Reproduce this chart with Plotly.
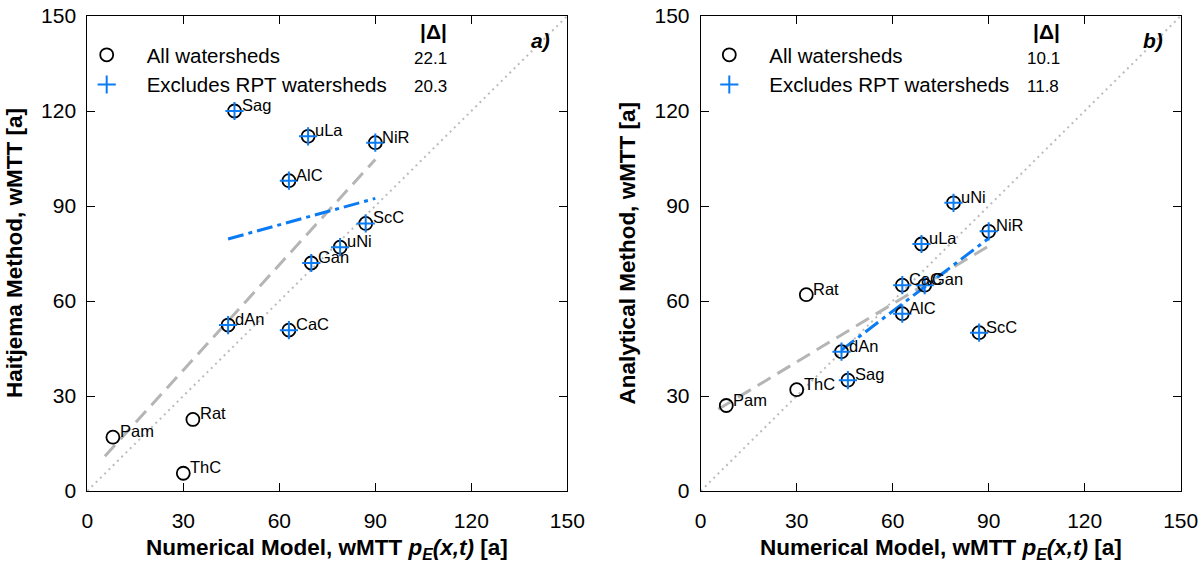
import plotly.graph_objects as go

W, H = 1204, 567

# ---------------- data ----------------
names = ["Pam", "ThC", "Rat", "dAn", "Sag", "CaC", "AlC", "uLa", "Gan", "uNi", "ScC", "NiR"]
numerical_wmtt = [8, 30, 33, 44, 46, 63, 63, 69, 70, 79, 87, 90]
haitjema_wmtt = [17, 5.6, 22.6, 52.4, 120, 50.8, 98, 112, 72, 77, 84.5, 110]
analytical_wmtt = [27, 32, 62, 44, 35, 65, 56, 78, 65, 91, 50, 82]
rpt_watershed = [True, True, True, False, False, False, False, False, False, False, False, False]

# regression line end points
fit_all_a_x = [5.5, 90]
fit_all_a_y = [11, 104.7]
fit_excl_a_x = [44, 90]
fit_excl_a_y = [79.6, 92.4]
fit_all_b_x = [5.5, 91]
fit_all_b_y = [25.8, 78]
fit_excl_b_x = [44, 90]
fit_excl_b_y = [44.5, 79.8]

one_to_one = [0, 150]
mad_all = [22.1, 10.1]
mad_excl = [20.3, 11.8]
tick_vals = [0, 30, 60, 90, 120, 150]
panel_tags = ["a)", "b)"]
y_titles = ["Haitjema Method, wMTT [a]", "Analytical Method, wMTT [a]"]
x_title = "Numerical Model, wMTT <i>p</i><sub><i>E</i></sub><i>(x,t)</i> [a]"
legend_names = ["All watersheds", "Excludes RPT watersheds"]

# ---------------- style ----------------
FONT = "Liberation Sans, Arial, sans-serif"
BLUE = "#0a7bf2"
GRAY_DASH = "#b5b5b5"
GRAY_DOT = "#bcbcbc"


def px_x(p):
    return p / W


def px_y(p):
    return 1 - p / H


fig = go.Figure()

panels = [
    dict(y=haitjema_wmtt, fx=fit_all_a_x, fy=fit_all_a_y, ex=fit_excl_a_x, ey=fit_excl_a_y,
         xa="x", ya="y", legend="legend", off=0),
    dict(y=analytical_wmtt, fx=fit_all_b_x, fy=fit_all_b_y, ex=fit_excl_b_x, ey=fit_excl_b_y,
         xa="x2", ya="y2", legend="legend2", off=613.4),
]

for i, p in enumerate(panels):
    xa, ya = p["xa"], p["ya"]
    fig.add_trace(go.Scatter(x=one_to_one, y=one_to_one, mode="lines", xaxis=xa, yaxis=ya,
                             line=dict(color=GRAY_DOT, width=2, dash="2px,4px"),
                             showlegend=False, hoverinfo="skip"))
    fig.add_trace(go.Scatter(x=p["fx"], y=p["fy"], mode="lines", xaxis=xa, yaxis=ya,
                             line=dict(color=GRAY_DASH, width=3, dash="15px,8px"),
                             showlegend=False, hoverinfo="skip"))
    fig.add_trace(go.Scatter(x=p["ex"], y=p["ey"], mode="lines", xaxis=xa, yaxis=ya,
                             line=dict(color=BLUE, width=3, dash="16px,5px,4px,5px"),
                             showlegend=False, hoverinfo="skip"))
    fig.add_trace(go.Scatter(x=numerical_wmtt, y=p["y"], mode="markers", xaxis=xa, yaxis=ya,
                             name=legend_names[0], legend=p["legend"],
                             marker=dict(symbol="circle-open", size=13, color="black",
                                         line=dict(color="black", width=1.8))))
    ex_x = [v for v, r in zip(numerical_wmtt, rpt_watershed) if not r]
    ex_y = [v for v, r in zip(p["y"], rpt_watershed) if not r]
    fig.add_trace(go.Scatter(x=ex_x, y=ex_y, mode="markers", xaxis=xa, yaxis=ya,
                             name=legend_names[1], legend=p["legend"],
                             marker=dict(symbol="cross-thin-open", size=13, color=BLUE,
                                         line=dict(color=BLUE, width=2))))
    for n, xv, yv in zip(names, numerical_wmtt, p["y"]):
        fig.add_annotation(x=xv, y=yv, xref=xa, yref=ya, text=n, showarrow=False,
                           xanchor="left", yanchor="middle", xshift=5, yshift=6,
                           font=dict(family=FONT, size=16.5, color="black"))
    off = p["off"]
    # |Δ| header and values
    fig.add_annotation(x=px_x(433 + off), y=px_y(31), xref="paper", yref="paper",
                       text="<b>|Δ|</b>", showarrow=False, xanchor="center", yanchor="middle",
                       font=dict(family=FONT, size=21, color="black"))
    fig.add_annotation(x=px_x(430 + off), y=px_y(58), xref="paper", yref="paper",
                       text=f"{mad_all[i]:.1f}", showarrow=False, xanchor="center", yanchor="middle",
                       font=dict(family=FONT, size=17, color="black"))
    fig.add_annotation(x=px_x(430 + off), y=px_y(86.5), xref="paper", yref="paper",
                       text=f"{mad_excl[i]:.1f}", showarrow=False, xanchor="center", yanchor="middle",
                       font=dict(family=FONT, size=17, color="black"))
    # panel tag
    fig.add_annotation(x=px_x(540 + off), y=px_y(40), xref="paper", yref="paper",
                       text=f"<b><i>{panel_tags[i]}</i></b>", showarrow=False,
                       xanchor="center", yanchor="middle",
                       font=dict(family=FONT, size=21, color="black"))
    # axis titles
    fig.add_annotation(x=px_x(327.3 + off), y=px_y(549), xref="paper", yref="paper",
                       text=f"<b>{x_title}</b>", showarrow=False, xanchor="center", yanchor="middle",
                       font=dict(family=FONT, size=22.5, color="black"))
    fig.add_annotation(x=px_x(15 + off), y=px_y(253), xref="paper", yref="paper",
                       text=f"<b>{y_titles[i]}</b>", showarrow=False, textangle=-90,
                       xanchor="center", yanchor="middle",
                       font=dict(family=FONT, size=22.5, color="black"))

axis_common = dict(range=[0, 150], tickvals=tick_vals, ticks="inside", ticklen=8,
                   tickcolor="black", showline=True, linecolor="black", linewidth=1,
                   mirror="ticks", showgrid=False, zeroline=False, automargin=False,
                   tickfont=dict(family=FONT, size=21, color="black"))

fig.update_layout(
    width=W, height=H,
    margin=dict(l=0, r=0, t=0, b=0, autoexpand=False),
    paper_bgcolor="white", plot_bgcolor="white",
    xaxis=dict(domain=[87.3 / W, 567.3 / W], anchor="y", ticklabelstandoff=11, **axis_common),
    yaxis=dict(domain=[1 - 491 / H, 1 - 16 / H], anchor="x", ticklabelstandoff=6, **axis_common),
    xaxis2=dict(domain=[700.7 / W, 1180.7 / W], anchor="y2", ticklabelstandoff=11, **axis_common),
    yaxis2=dict(domain=[1 - 491 / H, 1 - 16 / H], anchor="x2", ticklabelstandoff=6, **axis_common),
    legend=dict(x=px_x(66.7), y=px_y(35), xanchor="left", yanchor="top", itemwidth=70,
                bgcolor="rgba(0,0,0,0)", font=dict(family=FONT, size=20.5, color="black")),
    legend2=dict(x=px_x(66.7 + 622.6), y=px_y(35), xanchor="left", yanchor="top", itemwidth=70,
                 bgcolor="rgba(0,0,0,0)", font=dict(family=FONT, size=20.5, color="black")),
    font=dict(family=FONT, color="black"),
)

fig.write_html("out.html")
